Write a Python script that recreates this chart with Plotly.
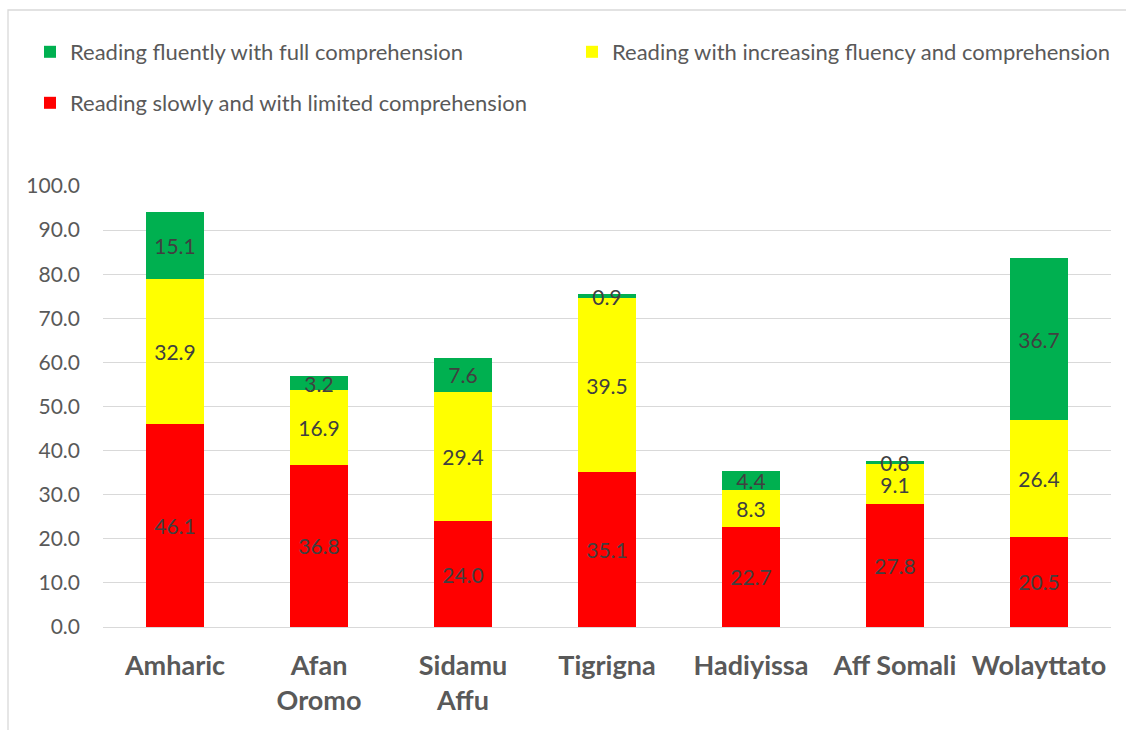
import plotly.graph_objects as go

languages = ["Amharic", "Afan<br>Oromo", "Sidamu<br>Affu", "Tigrigna",
             "Hadiyissa", "Aff Somali", "Wolayttato"]
slow_limited = [46.1, 36.8, 24.0, 35.1, 22.7, 27.8, 20.5]
increasing = [32.9, 16.9, 29.4, 39.5, 8.3, 9.1, 26.4]
fluent_full = [15.1, 3.2, 7.6, 0.9, 4.4, 0.8, 36.7]
y_ticks = [0, 10, 20, 30, 40, 50, 60, 70, 80, 90, 100]

FONT = "Lato"
LABEL_COLOR = "#404040"
AXIS_TEXT = "#595959"

series = [
    ("Reading slowly and with limited comprehension", slow_limited, "#FF0000", "legend3"),
    ("Reading with increasing fluency and comprehension", increasing, "#FFFF00", "legend2"),
    ("Reading fluently with full comprehension", fluent_full, "#00B050", "legend"),
]

fig = go.Figure()
for name, vals, color, leg in series:
    fig.add_trace(go.Bar(
        x=languages, y=vals, name=name, legend=leg,
        marker=dict(color=color, line=dict(width=0)),
        text=[f"{v:.1f}" for v in vals],
        textposition="inside", insidetextanchor="middle",
        constraintext="none", cliponaxis=False,
        textfont=dict(family=FONT, size=21, color=LABEL_COLOR),
    ))

L, R, T, B = 103, 15, 186, 103
W, H = 1126, 730
pw, ph = W - L - R, H - T - B

def px_x(px):
    return (px - L) / pw

def px_y(py):
    return (H - B - py) / ph

legend_common = dict(
    orientation="h", bgcolor="rgba(0,0,0,0)",
    font=dict(family=FONT, size=22, color=AXIS_TEXT),
    xanchor="left", yanchor="middle", itemwidth=30,
)

fig.update_layout(
    width=W, height=H,
    margin=dict(l=L, r=R, t=T, b=B, autoexpand=False),
    barmode="stack", bargap=0.6,
    plot_bgcolor="white", paper_bgcolor="white",
    showlegend=True,
    legend=dict(x=px_x(30), y=px_y(52), **legend_common),
    legend2=dict(x=px_x(572), y=px_y(52), **legend_common),
    legend3=dict(x=px_x(30), y=px_y(103), **legend_common),
    xaxis=dict(
        tickfont=dict(family=FONT, size=27, color=AXIS_TEXT, weight="bold"),
        showgrid=False, zeroline=False, showline=False,
        ticklabelstandoff=20, automargin=False,
    ),
    yaxis=dict(
        range=[0, 100], tickvals=y_ticks,
        ticktext=[f"{v:.1f}" for v in y_ticks],
        tickfont=dict(family=FONT, size=21, color=AXIS_TEXT),
        showgrid=True, gridcolor="#D9D9D9", gridwidth=1.3,
        zeroline=True, zerolinecolor="#D9D9D9", zerolinewidth=1.3,
        showline=False, ticklabelstandoff=22, automargin=False,
    ),
    shapes=[dict(
        type="rect", xref="paper", yref="paper",
        x0=px_x(8), y0=px_y(760), x1=px_x(1160), y1=px_y(10),
        line=dict(color="#D9D9D9", width=1.3), layer="below",
    )],
)

fig.write_html("out.html")
